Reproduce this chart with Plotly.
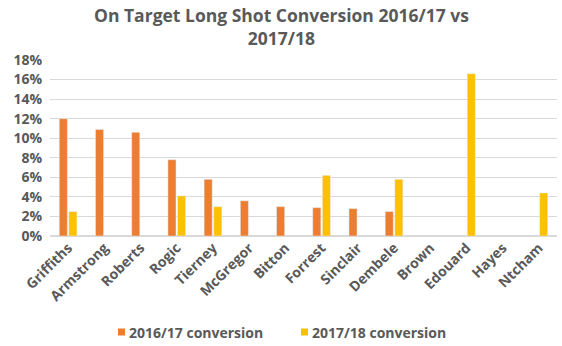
import plotly.graph_objects as go

players = ["Griffiths", "Armstrong", "Roberts", "Rogic", "Tierney", "McGregor", "Bitton",
           "Forrest", "Sinclair", "Dembele", "Brown", "Edouard", "Hayes", "Ntcham"]
conv_1617 = [0.120, 0.109, 0.106, 0.078, 0.058, 0.036, 0.030, 0.029, 0.028, 0.025, None, None, None, None]
conv_1718 = [0.025, None, None, 0.041, 0.030, None, None, 0.062, None, 0.058, None, 0.166, None, 0.044]
yticks = [0, 0.02, 0.04, 0.06, 0.08, 0.10, 0.12, 0.14, 0.16, 0.18]
title_lines = ["On Target Long Shot Conversion 2016/17 vs", "2017/18"]
series_names = ["2016/17 conversion", "2017/18 conversion"]
series_colors = ["#ED7D31", "#FFC000"]

FONT = "'Open Sans', sans-serif"
GREY = "#595959"
L, T, PW, PH = 50, 60, 507.0, 176.0


def px_x(p):
    return (p - L) / PW


def px_y(p):
    return (T + PH - p) / PH


fig = go.Figure()
for name, vals, col in zip(series_names, [conv_1617, conv_1718], series_colors):
    fig.add_trace(go.Bar(x=players, y=vals, name=name, marker_color=col))

fig.update_layout(
    width=562, height=346,
    margin=dict(l=L, r=5, t=T, b=110),
    paper_bgcolor="white", plot_bgcolor="white",
    barmode="group", bargap=0.47, bargroupgap=0.16,
    font=dict(family=FONT, color=GREY),
    showlegend=False,
)
# title (one two-line text)
fig.add_annotation(text="<b>" + "<br>".join(title_lines) + "</b>", xref="paper", yref="paper",
                   x=px_x(281), xanchor="center", y=px_y(26.5), yanchor="middle",
                   showarrow=False, font=dict(family=FONT, size=17.5, color=GREY))
# legend (custom, to match compact marker/text spacing)
leg_x = [118, 301]
leg_cy = 332
for name, col, lx in zip(series_names, series_colors, leg_x):
    fig.add_shape(type="rect", xref="paper", yref="paper",
                  x0=px_x(lx), x1=px_x(lx + 7), y0=px_y(leg_cy + 3.5), y1=px_y(leg_cy - 3.5),
                  fillcolor=col, line=dict(width=0))
    fig.add_annotation(text="<b>" + name + "</b>", xref="paper", yref="paper",
                       x=px_x(lx + 9), xanchor="left", y=px_y(leg_cy), yanchor="middle",
                       showarrow=False, font=dict(family=FONT, size=14, color=GREY))

fig.update_xaxes(tickangle=-45, showgrid=False, showline=False, ticks="",
                 tickfont=dict(family=FONT, size=14, color=GREY, weight="bold"))
fig.update_yaxes(range=[0, 0.18], tickvals=yticks, tickformat=".0%",
                 showgrid=True, gridcolor="#d9d9d9", gridwidth=1, zeroline=True,
                 zerolinecolor="#d9d9d9", showline=False, ticks="", ticklabelstandoff=7,
                 tickfont=dict(family=FONT, size=14, color=GREY, weight="bold"))

fig.write_html("out.html")
